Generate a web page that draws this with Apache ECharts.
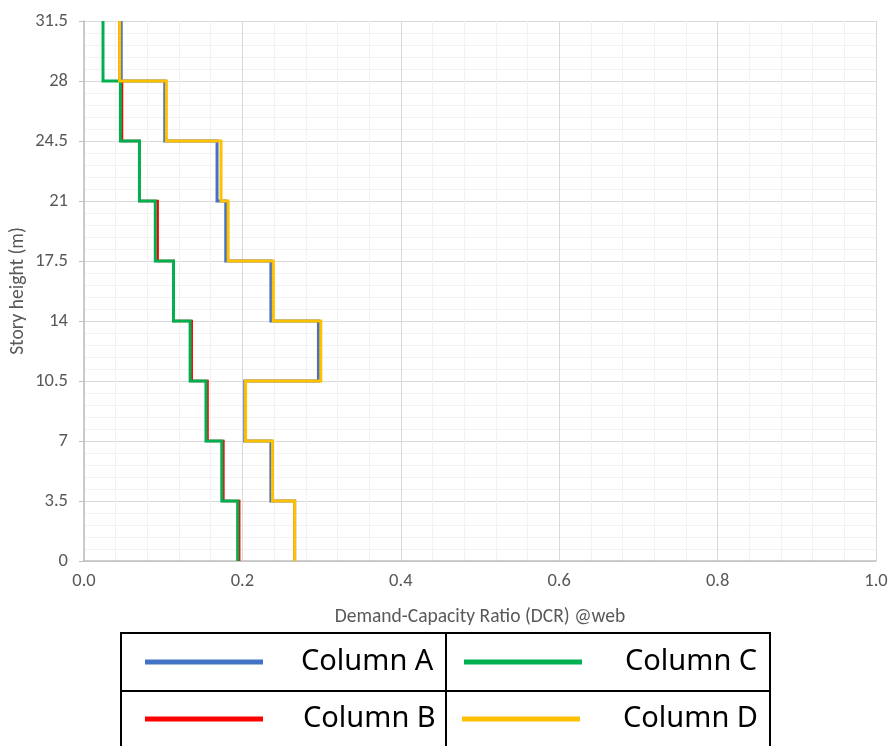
<!DOCTYPE html>
<html>
<head>
<meta charset="utf-8">
<script src="https://cdn.jsdelivr.net/npm/echarts@6/dist/echarts.min.js"></script>
<style>
html,body{margin:0;padding:0;background:#fff;}
#chart{width:888px;height:746px;}
</style>
</head>
<body>
<div id="chart"></div>
<script>
// Story levels (m)
const storyLevels = [0, 3.5, 7, 10.5, 14, 17.5, 21, 24.5, 28, 31.5];
// DCR per story, bottom story first
const columnA = [0.266, 0.236, 0.203, 0.296, 0.236, 0.179, 0.168, 0.102, 0.047];
const columnB = [0.196, 0.176, 0.156, 0.136, 0.113, 0.093, 0.070, 0.048, 0.045];
const columnC = [0.194, 0.174, 0.154, 0.134, 0.113, 0.090, 0.070, 0.046, 0.024];
const columnD = [0.266, 0.238, 0.204, 0.299, 0.239, 0.182, 0.173, 0.104, 0.045];
const seriesNames = ['Column A', 'Column B', 'Column C', 'Column D'];
const seriesColors = ['#4472C4', '#FF0000', '#00B050', '#FFC000'];

function stepPoints(vals) {
  const pts = [];
  for (let i = 0; i < vals.length; i++) {
    pts.push([vals[i], storyLevels[i]]);
    pts.push([vals[i], storyLevels[i + 1]]);
  }
  return pts;
}

const allVals = [columnA, columnB, columnC, columnD];
const widths = [3, 2.5, 3, 3];

const axisFont = 'Carlito, Lato, sans-serif';

const chart = echarts.init(document.getElementById('chart'), null, {renderer: 'canvas'});

const legendPos = [
  {left: 145, top: 646, pad: 33},
  {left: 145, top: 703, pad: 35},
  {left: 464, top: 646, pad: 38},
  {left: 462, top: 703, pad: 38}
];

chart.setOption({
  animation: false,
  backgroundColor: '#fff',
  grid: {left: 84, right: 12, top: 21, bottom: 185, containLabel: false, outerBoundsMode: 'none'},
  xAxis: {
    type: 'value', min: 0, max: 1, interval: 0.2,
    name: 'Demand-Capacity Ratio (DCR) @web',
    nameLocation: 'middle', nameGap: 46, nameMoveOverlap: false,
    nameTextStyle: {color: '#595959', fontSize: 19.5, fontFamily: axisFont},
    axisLine: {show: true, lineStyle: {color: '#BFBFBF', width: 1.5}},
    axisTick: {show: false},
    axisLabel: {color: '#595959', fontSize: 18.5, fontFamily: axisFont, margin: 11,
      formatter: v => v.toFixed(1)},
    splitLine: {show: true, lineStyle: {color: '#D9D9D9', width: 1}},
    minorTick: {show: false, splitNumber: 5},
    minorSplitLine: {show: true, lineStyle: {color: '#F2F2F2', width: 1}}
  },
  yAxis: {
    type: 'value', min: 0, max: 31.5, interval: 3.5,
    name: 'Story height (m)',
    nameLocation: 'middle', nameGap: 56, nameRotate: 90, nameMoveOverlap: false,
    nameTextStyle: {color: '#595959', fontSize: 19.5, fontFamily: axisFont},
    axisLine: {show: true, lineStyle: {color: '#BFBFBF', width: 1.5}},
    axisTick: {show: true, length: 5, lineStyle: {color: '#BFBFBF'}},
    axisLabel: {color: '#595959', fontSize: 18.5, fontFamily: axisFont, margin: 16},
    splitLine: {show: true, lineStyle: {color: '#D9D9D9', width: 1}},
    minorTick: {show: false, splitNumber: 5},
    minorSplitLine: {show: true, lineStyle: {color: '#F2F2F2', width: 1}}
  },
  legend: seriesNames.map((n, i) => ({
    data: [{name: n, icon: 'rect'}],
    left: legendPos[i].left, top: legendPos[i].top,
    orient: 'horizontal', padding: 0,
    itemWidth: 118, itemHeight: 5,
    textStyle: {color: '#000', fontSize: 29, fontFamily: 'Noto Sans, sans-serif',
      lineHeight: 32, padding: [0, 0, 0, legendPos[i].pad]}
  })),
  graphic: [
    {type: 'rect', shape: {x: 121, y: 633, width: 649, height: 130},
      style: {fill: 'none', stroke: '#000', lineWidth: 2}, silent: true},
    {type: 'line', shape: {x1: 121, y1: 691, x2: 770, y2: 691},
      style: {stroke: '#000', lineWidth: 2}, silent: true},
    {type: 'line', shape: {x1: 446, y1: 633, x2: 446, y2: 746},
      style: {stroke: '#000', lineWidth: 2}, silent: true}
  ],
  series: seriesNames.map((n, i) => ({
    name: n, type: 'line', data: stepPoints(allVals[i]),
    showSymbol: false, symbol: 'none',
    lineStyle: {color: seriesColors[i], width: widths[i], join: 'miter'},
    itemStyle: {color: seriesColors[i]},
    z: 2 + i
  }))
});
</script>
</body>
</html>
